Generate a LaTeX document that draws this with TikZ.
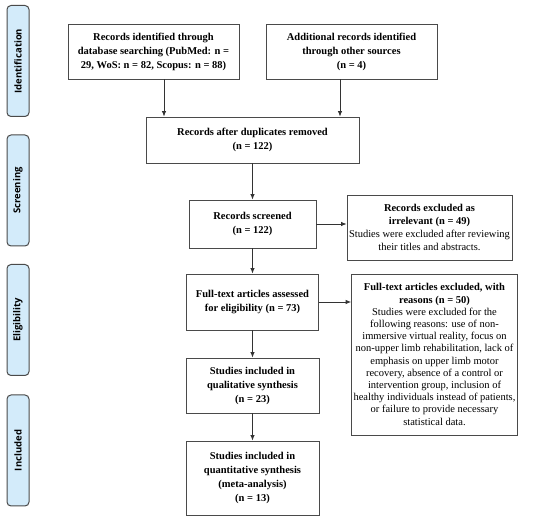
\documentclass[tikz,border=0pt]{standalone}
\usepackage{fontspec}
\setmainfont{Liberation Serif}
\newfontfamily\sidefont{Open Sans}
\usepackage{tikz}
\usetikzlibrary{arrows.meta, positioning}

\definecolor{sideblue}{HTML}{D3EBFA}
\definecolor{boxline}{HTML}{4A4A4A}

\tikzset{
    stagebox/.style={draw=boxline, line width=1pt, rounded corners=4pt, fill=sideblue,
        rotate=90, minimum width=111pt, minimum height=22pt, inner sep=0pt,
        font=\sidefont\bfseries\fontsize{9.5}{12}\selectfont},
    flowbox/.style={draw=boxline, line width=0.9pt, align=center, inner sep=2pt,
        font=\fontsize{10.5}{14}\selectfont},
    arr/.style={-{Latex[length=5.5pt,width=4.5pt]}, line width=0.8pt, draw=black!80}
}

\begin{document}
\begin{tikzpicture}[x=1pt, y=-1pt]
    \useasboundingbox (0,0) rectangle (550,521);

    % stage labels on the left
    \node[stagebox] (sid) at (18,61) {Identification};
    \node[stagebox] (sscr) at (18,190.5) {Screening};
    \node[stagebox] (selig) at (18,320) {Eligibility};
    \node[stagebox] (sinc) at (18,450.5) {Included};

    % main column
    \node[flowbox, minimum width=171pt, minimum height=55pt] (ident) at (153.5,51.5)
        {\textbf{Records identified through}\\\textbf{database searching (PubMed: n =}\\\textbf{29, WoS: n = 82, Scopus: n = 88)}};
    \node[flowbox, minimum width=171pt, minimum height=55pt] (other) at (351.5,51.5)
        {\textbf{Additional records identified}\\\textbf{through other sources}\\\textbf{(n = 4)}};
    \node[flowbox, minimum width=213pt, minimum height=46pt] (dups) at (252.5,140)
        {\textbf{Records after duplicates removed}\\\textbf{(n = 122)}};
    \node[flowbox, minimum width=127pt, minimum height=48pt] (scr) at (252.5,224)
        {\textbf{Records screened}\\\textbf{(n = 122)}};
    \node[flowbox, minimum width=132pt, minimum height=56pt] (full) at (252.5,302)
        {\textbf{Full-text articles assessed}\\\textbf{for eligibility (n = 73)}};
    \node[flowbox, minimum width=133pt, minimum height=55pt] (qual) at (252.5,385.5)
        {\textbf{Studies included in}\\\textbf{qualitative synthesis}\\\textbf{(n = 23)}};
    \node[flowbox, minimum width=133pt, minimum height=74pt] (quant) at (252.5,478)
        {\textbf{Studies included in}\\\textbf{quantitative synthesis}\\\textbf{(meta-analysis)}\\\textbf{(n = 13)}};

    % exclusion boxes
    \node[flowbox, minimum width=165pt, minimum height=65pt,
          font=\fontsize{10.5}{13}\selectfont] (exc1) at (429.5,227.5)
        {\textbf{Records excluded as}\\\textbf{irrelevant (n = 49)}\\Studies were excluded after reviewing\\their titles and abstracts.};
    \node[flowbox, minimum width=165pt, minimum height=161pt,
          font=\fontsize{10.5}{12.2}\selectfont] (exc2) at (434.5,354.5)
        {\textbf{Full-text articles excluded, with}\\\textbf{reasons (n = 50)}\\Studies were excluded for the\\following reasons: use of non-\\immersive virtual reality, focus on\\non-upper limb rehabilitation, lack of\\emphasis on upper limb motor\\recovery, absence of a control or\\intervention group, inclusion of\\healthy individuals instead of patients,\\or failure to provide necessary\\statistical data.};

    % connectors
    \coordinate (left) at (164,0);
    \coordinate (right) at (340,0);
    \draw[arr] (ident.south -| left) -- (dups.north -| left);
    \draw[arr] (other.south -| right) -- (dups.north -| right);
    \draw[arr] (dups) -- (scr);
    \draw[arr] (scr.east) -- (scr.east -| exc1.west);
    \draw[arr] (scr) -- (full);
    \draw[arr] (full.east) -- (full.east -| exc2.west);
    \draw[arr] (full) -- (qual);
    \draw[arr] (qual) -- (quant);
\end{tikzpicture}
\end{document}
